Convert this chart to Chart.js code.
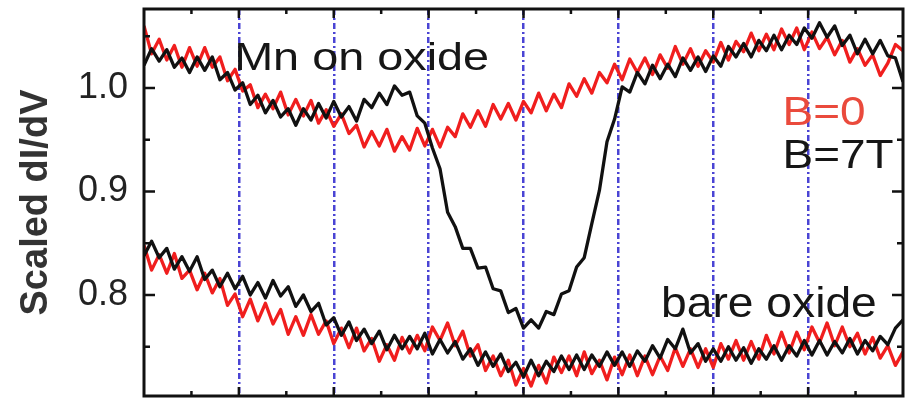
<!DOCTYPE html>
<html>
<head>
<meta charset="utf-8">
<script src="https://cdn.jsdelivr.net/npm/chart.js@4"></script>
<style>
  html, body { margin: 0; padding: 0; background: #fff; }
  #wrap { width: 905px; height: 400px; }
</style>
</head>
<body>
<div id="wrap"><canvas id="chart" width="905" height="400"></canvas></div>
<script>
// Sample spacing along the (unlabelled) bias axis
const X_STEP = 0.08;

// Mn on oxide, B=0 (red)
const mnB0 = [
  1.060, 1.033, 1.047, 1.027, 1.041, 1.020, 1.039, 1.021, 1.039, 1.020,
  1.030, 1.007, 1.018, 0.997, 1.003, 0.981, 0.994, 0.980, 0.996, 0.974,
  0.989, 0.973, 0.988, 0.966, 0.979, 0.963, 0.975, 0.956, 0.964, 0.943,
  0.958, 0.944, 0.960, 0.939, 0.953, 0.940, 0.961, 0.944, 0.960, 0.943,
  0.962, 0.953, 0.975, 0.962, 0.978, 0.963, 0.984, 0.970, 0.985, 0.969,
  0.987, 0.976, 0.995, 0.978, 0.994, 0.981, 1.004, 0.992, 1.009, 0.995,
  1.015, 1.005, 1.023, 1.008, 1.028, 1.015, 1.029, 1.013, 1.032, 1.019,
  1.040, 1.023, 1.038, 1.021, 1.036, 1.025, 1.044, 1.027, 1.045, 1.035,
  1.053, 1.036, 1.052, 1.037, 1.057, 1.042, 1.058, 1.037, 1.054, 1.038,
  1.049, 1.032, 1.046, 1.025, 1.038, 1.022, 1.032, 1.012, 1.024, 1.042,
  1.036
];

// Mn on oxide, B=7T (black)
const mnB7 = [
  1.022, 1.038, 1.026, 1.037, 1.020, 1.029, 1.015, 1.030, 1.017, 1.030,
  1.008, 1.015, 0.998, 1.005, 0.984, 0.993, 0.976, 0.988, 0.972, 0.980,
  0.964, 0.980, 0.969, 0.985, 0.971, 0.987, 0.972, 0.982, 0.968, 0.989,
  0.981, 0.995, 0.984, 1.002, 0.993, 0.996, 0.973, 0.966, 0.942, 0.922,
  0.880, 0.866, 0.845, 0.845, 0.826, 0.827, 0.806, 0.804, 0.783, 0.787,
  0.768, 0.776, 0.768, 0.784, 0.781, 0.801, 0.804, 0.827, 0.836, 0.869,
  0.901, 0.948, 0.970, 1.001, 0.996, 1.015, 1.004, 1.022, 1.009, 1.023,
  1.011, 1.029, 1.017, 1.030, 1.016, 1.031, 1.021, 1.040, 1.030, 1.043,
  1.030, 1.046, 1.036, 1.051, 1.037, 1.051, 1.042, 1.058, 1.048, 1.063,
  1.049, 1.060, 1.041, 1.051, 1.033, 1.047, 1.033, 1.046, 1.031, 1.029,
  1.006
];

// bare oxide, B=0 (red)
const bareB0 = [
  0.848, 0.824, 0.839, 0.821, 0.840, 0.816, 0.824, 0.805, 0.821, 0.802,
  0.816, 0.790, 0.801, 0.779, 0.796, 0.775, 0.792, 0.772, 0.786, 0.762,
  0.779, 0.761, 0.781, 0.762, 0.775, 0.753, 0.768, 0.749, 0.768, 0.746,
  0.758, 0.736, 0.752, 0.737, 0.759, 0.744, 0.761, 0.746, 0.769, 0.756,
  0.773, 0.751, 0.765, 0.741, 0.752, 0.727, 0.741, 0.722, 0.737, 0.713,
  0.729, 0.712, 0.732, 0.715, 0.740, 0.725, 0.741, 0.722, 0.745, 0.724,
  0.737, 0.718, 0.740, 0.723, 0.742, 0.722, 0.741, 0.723, 0.741, 0.727,
  0.749, 0.731, 0.748, 0.730, 0.748, 0.730, 0.753, 0.738, 0.756, 0.737,
  0.755, 0.738, 0.761, 0.743, 0.764, 0.744, 0.764, 0.747, 0.769, 0.754,
  0.773, 0.751, 0.769, 0.750, 0.763, 0.743, 0.759, 0.739, 0.751, 0.732,
  0.745
];

// bare oxide, B=7T (black)
const bareB7 = [
  0.838, 0.852, 0.836, 0.845, 0.825, 0.837, 0.823, 0.837, 0.815, 0.824,
  0.808, 0.821, 0.806, 0.818, 0.800, 0.812, 0.797, 0.814, 0.799, 0.808,
  0.789, 0.800, 0.784, 0.792, 0.771, 0.778, 0.761, 0.774, 0.756, 0.767,
  0.753, 0.765, 0.747, 0.761, 0.748, 0.760, 0.748, 0.763, 0.743, 0.757,
  0.744, 0.755, 0.738, 0.748, 0.732, 0.745, 0.731, 0.743, 0.726, 0.735,
  0.721, 0.737, 0.722, 0.736, 0.726, 0.741, 0.728, 0.742, 0.728, 0.742,
  0.731, 0.745, 0.732, 0.745, 0.731, 0.746, 0.736, 0.751, 0.739, 0.757,
  0.748, 0.767, 0.744, 0.753, 0.736, 0.748, 0.736, 0.750, 0.737, 0.749,
  0.734, 0.748, 0.738, 0.751, 0.737, 0.751, 0.741, 0.756, 0.742, 0.756,
  0.742, 0.755, 0.744, 0.758, 0.743, 0.756, 0.746, 0.760, 0.752, 0.768,
  0.776
];

// axis decorations
const stepLines = [1, 2, 3, 4, 5, 6, 7];
const xTickValues = [0.5, 1, 1.5, 2, 2.5, 3, 3.5, 4, 4.5, 5, 5.5, 6, 6.5, 7, 7.5];
const yTickValues = [0.75, 0.8, 0.85, 0.9, 0.95, 1.0, 1.05];
const yLabelValues = [0.8, 0.9, 1.0];

const RED = '#f01e1e';
const BLACK = '#111111';
const STEP_BLUE = '#4a44d4';

function toPoints(ys) {
    return ys.map((y, i) => ({ x: +(i * X_STEP).toFixed(2), y: y }));
}

function seriesStyle(color) {
    return {
        borderColor: color,
        borderWidth: 3.3,
        borderJoinStyle: 'round',
        pointRadius: 0,
        tension: 0,
        fill: false
    };
}

// box frame plus inward tick marks on all four sides (minor ones shorter)
const frameTicks = {
    id: 'frameTicks',
    afterDraw(chart) {
        const { ctx, chartArea: a, scales } = chart;
        ctx.save();
        ctx.strokeStyle = '#111';
        ctx.lineWidth = 3;
        ctx.strokeRect(a.left, a.top, a.right - a.left, a.bottom - a.top);
        ctx.lineWidth = 2.5;
        ctx.beginPath();
        xTickValues.forEach(v => {
            const px = scales.x.getPixelForValue(v);
            const len = Number.isInteger(v) ? 9 : 5;
            ctx.moveTo(px, a.top);
            ctx.lineTo(px, a.top + len);
            ctx.moveTo(px, a.bottom);
            ctx.lineTo(px, a.bottom - len);
        });
        yTickValues.forEach(v => {
            const py = scales.y.getPixelForValue(v);
            const len = yLabelValues.includes(v) ? 11 : 6;
            ctx.moveTo(a.left, py);
            ctx.lineTo(a.left + len, py);
            ctx.moveTo(a.right, py);
            ctx.lineTo(a.right - len, py);
        });
        ctx.stroke();
        ctx.restore();
    }
};

// in-plot labels, stretched sideways like the original figure
const notes = [
    { text: 'Mn on oxide', x: 0.95, y: 1.0174, color: '#161616', size: 39, stretch: 1.2 },
    { text: 'bare oxide', x: 5.45, y: 0.7787, color: '#161616', size: 42, stretch: 1.1 },
    { text: 'B=0', x: 6.73, y: 0.9643, color: '#ea4a3c', size: 41, stretch: 1.12 },
    { text: 'B=7T', x: 6.73, y: 0.9227, color: '#161616', size: 41, stretch: 1.12 }
];

const plotNotes = {
    id: 'plotNotes',
    afterDraw(chart) {
        const { ctx, scales } = chart;
        notes.forEach(n => {
            const px = scales.x.getPixelForValue(n.x);
            const py = scales.y.getPixelForValue(n.y);
            ctx.save();
            ctx.translate(px, py);
            ctx.scale(n.stretch, 1);
            ctx.font = n.size + 'px "Liberation Sans", Arial, sans-serif';
            ctx.fillStyle = n.color;
            ctx.textAlign = 'left';
            ctx.textBaseline = 'alphabetic';
            ctx.fillText(n.text, 0, 0);
            ctx.restore();
        });
    }
};

const ctx = document.getElementById('chart').getContext('2d');
new Chart(ctx, {
    type: 'line',
    data: {
        datasets: [
            Object.assign({ label: 'Mn on oxide, B=7T', data: toPoints(mnB7) }, seriesStyle(BLACK)),
            Object.assign({ label: 'bare oxide, B=7T', data: toPoints(bareB7) }, seriesStyle(BLACK)),
            Object.assign({ label: 'Mn on oxide, B=0', data: toPoints(mnB0) }, seriesStyle(RED)),
            Object.assign({ label: 'bare oxide, B=0', data: toPoints(bareB0) }, seriesStyle(RED))
        ]
    },
    options: {
        responsive: false,
        animation: false,
        devicePixelRatio: 1,
        layout: { padding: { left: 0, top: 9, right: 2, bottom: 4 } },
        plugins: {
            legend: { display: false },
            tooltip: { enabled: false },
            title: { display: false }
        },
        scales: {
            x: {
                type: 'linear',
                position: 'bottom',
                min: 0,
                max: 8,
                afterBuildTicks: axis => {
                    axis.ticks = stepLines.map(v => ({ value: v }));
                },
                ticks: { display: false },
                grid: {
                    drawTicks: false,
                    color: STEP_BLUE,
                    lineWidth: 2.5
                },
                border: { display: false, dash: [6, 3, 2, 3] },
                afterFit: scale => {
                    scale.height = 0;
                    scale.paddingLeft = 0;
                    scale.paddingRight = 0;
                }
            },
            y: {
                type: 'linear',
                position: 'left',
                min: 0.7024,
                max: 1.0763,
                afterBuildTicks: axis => {
                    axis.ticks = yTickValues.map(v => ({ value: v }));
                },
                ticks: {
                    padding: 16,
                    color: '#222',
                    font: { family: '"Liberation Sans", Arial, sans-serif', size: 36 },
                    callback: v => (yLabelValues.includes(v) ? v.toFixed(1) : '')
                },
                grid: { drawOnChartArea: false, drawTicks: false },
                border: { display: false },
                title: {
                    display: true,
                    text: 'Scaled dI/dV',
                    color: '#333',
                    font: { family: '"Liberation Sans", Arial, sans-serif', size: 38, weight: 'bold' },
                    padding: { top: 14, bottom: 0 }
                },
                afterFit: scale => {
                    scale.width = 144;
                    scale.paddingTop = 0;
                    scale.paddingBottom = 0;
                }
            }
        }
    },
    plugins: [frameTicks, plotNotes]
});
</script>
</body>
</html>
